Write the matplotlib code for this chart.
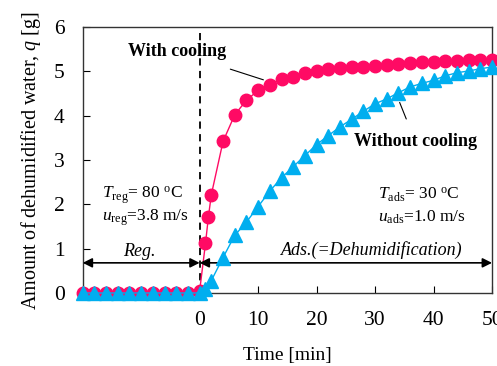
import matplotlib
matplotlib.use("Agg")
import matplotlib.pyplot as plt

# ---- data ----
t_reg = [-20, -18, -16, -14, -12, -10, -8, -6, -4, -2]
q_reg_cool = [0, 0, 0, 0, 0, 0, 0, 0, 0, 0]
q_reg_nocool = [0, 0, 0, 0, 0, 0, 0, 0, 0, 0]

t_cool = [0, 1, 1.5, 2, 4, 6, 8, 10, 12, 14, 16, 18, 20, 22, 24, 26, 28, 30,
          32, 34, 36, 38, 40, 42, 44, 46, 48, 50]
q_cool = [0.05, 1.12, 1.72, 2.22, 3.42, 4.02, 4.35, 4.57, 4.7, 4.83, 4.88, 4.97,
          5.02, 5.05, 5.07, 5.09, 5.11, 5.12, 5.15, 5.17, 5.19, 5.21, 5.22,
          5.23, 5.24, 5.25, 5.26, 5.26]

t_nocool = [0, 1, 2, 4, 6, 8, 10, 12, 14, 16, 18, 20, 22, 24, 26, 28, 30, 32,
            34, 36, 38, 40, 42, 44, 46, 48, 50]
q_nocool = [0.0, 0.1, 0.28, 0.8, 1.3, 1.6, 1.95, 2.3, 2.6, 2.85, 3.1, 3.35,
            3.55, 3.75, 3.92, 4.1, 4.27, 4.38, 4.52, 4.65, 4.73, 4.8, 4.9,
            4.97, 5.01, 5.06, 5.1]

xticks = [0, 10, 20, 30, 40, 50]
yticks = [0, 1, 2, 3, 4, 5, 6]

pink = "#FF0A64"
blue = "#00AEEF"

plt.rcParams['font.family'] = ['Liberation Serif', 'DejaVu Serif']
plt.rcParams['mathtext.fontset'] = 'custom'
plt.rcParams['mathtext.rm'] = 'Liberation Serif'
plt.rcParams['mathtext.it'] = 'Liberation Serif:italic'
plt.rcParams['mathtext.bf'] = 'Liberation Serif:bold'

fig = plt.figure(figsize=(4.97, 3.66), dpi=100)
ax = fig.add_axes([0.1664, 0.1995, 0.8236, 0.7265])

tc = t_reg + t_cool
qc = q_reg_cool + q_cool
tn = t_reg + t_nocool
qn = q_reg_nocool + q_nocool

ax.plot(tc, qc, color=pink, lw=1.0, marker='o', ms=9, mec=pink, mfc=pink,
        clip_on=False, zorder=3)
ax.plot(tn, qn, color=blue, lw=1.0, marker='^', ms=9.5, mec=blue, mfc=blue,
        clip_on=False, zorder=4)

ax.set_xlim(-20, 50)
ax.set_ylim(0, 6)
ax.set_xticks(xticks)
ax.set_yticks(yticks)
ax.tick_params(direction='in', labelsize=15.5, length=5, width=0.8,
               top=False, right=False)
ax.tick_params(axis='y', pad=13)
ax.tick_params(axis='x', pad=13)
for s in ax.spines.values():
    s.set_linewidth(1.0)
    s.set_color('#333333')

ax.axvline(0, color='black', ls=(0, (4, 3)), lw=1.3, zorder=2)

ax.set_xlabel('Time [min]', fontsize=14, labelpad=12)
ax.set_ylabel('Amount of dehumidified water, $q$ [g]', fontsize=14.5, labelpad=8)

# arrows
ax.annotate('', xy=(-20, 0.68), xytext=(0, 0.68),
            arrowprops=dict(arrowstyle='<|-|>', color='black', lw=1.2,
                            mutation_scale=14, shrinkA=0, shrinkB=0))
ax.annotate('', xy=(0, 0.68), xytext=(50, 0.68),
            arrowprops=dict(arrowstyle='<|-|>', color='black', lw=1.2,
                            mutation_scale=14, shrinkA=0, shrinkB=0),
            annotation_clip=False)

ax.text(-10.3, 0.94, 'Reg.', style='italic', fontsize=13, ha='center', va='center')
ax.text(29.5, 0.97, 'Ads.(=Dehumidification)', style='italic', fontsize=13,
        ha='center', va='center')

ax.text(-16.7, 2.2, r'$T_{\rm reg}$= 80 $^{\rm o}$C', fontsize=12.5,
        ha='left', va='center')
ax.text(-16.7, 1.69, r'$u_{\rm reg}$=3.8 m/s', fontsize=12.5,
        ha='left', va='center')
ax.text(30.5, 2.22, r'$T_{\rm ads}$= 30 $^{\rm o}$C', fontsize=12.5,
        ha='left', va='center')
ax.text(30.5, 1.71, r'$u_{\rm ads}$=1.0 m/s', fontsize=12.5,
        ha='left', va='center')

ax.annotate('With cooling', xy=(10.9, 4.81), xytext=(-3.9, 5.44),
            fontsize=13, fontweight='bold', ha='center', va='center',
            arrowprops=dict(arrowstyle='-', color='black', lw=0.8,
                            shrinkA=14, shrinkB=0))
ax.annotate('Without cooling', xy=(34.2, 4.3), xytext=(36.9, 3.41),
            fontsize=13, fontweight='bold', ha='center', va='center',
            arrowprops=dict(arrowstyle='-', color='black', lw=0.8,
                            shrinkA=9, shrinkB=0))

fig.savefig('out.png', dpi=100)
